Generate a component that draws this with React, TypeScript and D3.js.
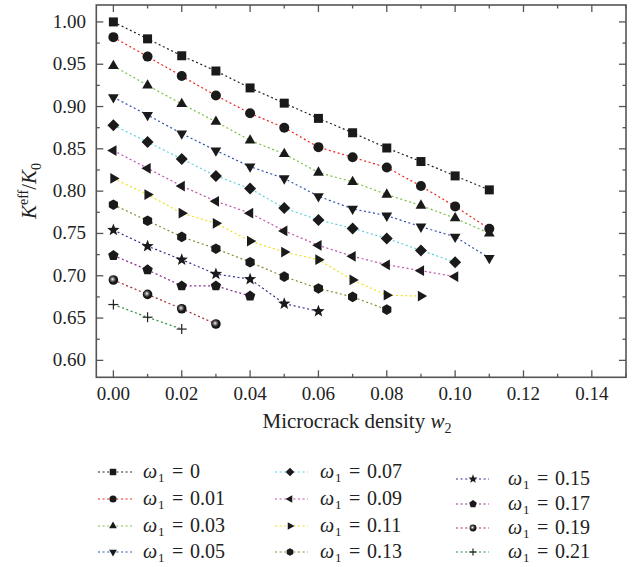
import React from "react";
import * as d3 from "d3";

const W = 634;
const H = 567;

const densities = [0, 0.01, 0.02, 0.03, 0.04, 0.05, 0.06, 0.07, 0.08, 0.09, 0.1, 0.11];

const omegaLabels = ["0", "0.01", "0.03", "0.05", "0.07", "0.09", "0.11", "0.13", "0.15", "0.17", "0.19", "0.21"];

const s0 = [1.0, 0.98, 0.96, 0.942, 0.922, 0.904, 0.886, 0.869, 0.851, 0.835, 0.818, 0.8015];
const s01 = [0.982, 0.959, 0.936, 0.913, 0.892, 0.875, 0.852, 0.84, 0.828, 0.806, 0.782, 0.7555];
const s03 = [0.948, 0.925, 0.903, 0.882, 0.86, 0.844, 0.822, 0.811, 0.796, 0.783, 0.768, 0.75];
const s05 = [0.911, 0.89, 0.868, 0.848, 0.829, 0.815, 0.794, 0.779, 0.771, 0.758, 0.746, 0.721];
const s07 = [0.878, 0.858, 0.838, 0.818, 0.803, 0.78, 0.766, 0.756, 0.744, 0.73, 0.716];
const s09 = [0.848, 0.827, 0.806, 0.788, 0.774, 0.753, 0.736, 0.723, 0.713, 0.706, 0.699];
const s11 = [0.815, 0.796, 0.774, 0.762, 0.741, 0.728, 0.719, 0.695, 0.677, 0.676];
const s13 = [0.784, 0.765, 0.746, 0.732, 0.716, 0.699, 0.685, 0.675, 0.66];
const s15 = [0.754, 0.735, 0.719, 0.702, 0.696, 0.667, 0.658];
const s17 = [0.724, 0.707, 0.688, 0.688, 0.676];
const s19 = [0.695, 0.678, 0.661, 0.643];
const s21 = [0.666, 0.651, 0.637];

const seriesValues = [s0, s01, s03, s05, s07, s09, s11, s13, s15, s17, s19, s21];
const seriesColors = [
  "#222222", "#f02020", "#78c040", "#3050b0", "#60d0e0", "#c050b0",
  "#f0e020", "#8a8a30", "#303090", "#8a2890", "#a03030", "#2a8a3a",
];
const markerTypes = [
  "square", "circle", "up", "down", "diamond", "left",
  "right", "hexagon", "star", "pentagon", "sphere", "plus",
];

const xTicks = [0, 0.02, 0.04, 0.06, 0.08, 0.1, 0.12, 0.14];
const yTicks = [0.6, 0.65, 0.7, 0.75, 0.8, 0.85, 0.9, 0.95, 1.0];

const M = { left: 96.3, top: 5, right: 626, bottom: 377.3 };

const x = d3.scaleLinear().domain([-0.005, 0.15]).range([M.left, M.right]);
const y = d3.scaleLinear().domain([0.58, 1.02]).range([M.bottom, M.top]);

function polygon(n: number, r: number, rot: number): string {
  const pts: string[] = [];
  for (let i = 0; i < n; i++) {
    const a = rot + (i * 2 * Math.PI) / n;
    pts.push(`${(r * Math.cos(a)).toFixed(2)},${(r * Math.sin(a)).toFixed(2)}`);
  }
  return "M" + pts.join("L") + "Z";
}

function starPath(r: number): string {
  const pts: string[] = [];
  for (let i = 0; i < 10; i++) {
    const rr = i % 2 === 0 ? r : r * 0.42;
    const a = -Math.PI / 2 + (i * Math.PI) / 5;
    pts.push(`${(rr * Math.cos(a)).toFixed(2)},${(rr * Math.sin(a)).toFixed(2)}`);
  }
  return "M" + pts.join("L") + "Z";
}

function Marker({ type, cx, cy, s }: { type: string; cx: number; cy: number; s: number }) {
  const t = `translate(${cx},${cy})`;
  const fill = "#1a1a1a";
  switch (type) {
    case "square":
      return <rect x={cx - 4.5 * s} y={cy - 4.5 * s} width={9 * s} height={9 * s} fill={fill} />;
    case "circle":
      return <circle cx={cx} cy={cy} r={5 * s} fill={fill} />;
    case "up":
      return <path transform={t} d={polygon(3, 6.2 * s, -Math.PI / 2)} fill={fill} />;
    case "down":
      return <path transform={t} d={polygon(3, 6.2 * s, Math.PI / 2)} fill={fill} />;
    case "left":
      return <path transform={t} d={polygon(3, 6.2 * s, Math.PI)} fill={fill} />;
    case "right":
      return <path transform={t} d={polygon(3, 6.2 * s, 0)} fill={fill} />;
    case "diamond":
      return <path transform={t} d={polygon(4, 6 * s, 0)} fill={fill} />;
    case "hexagon":
      return <path transform={t} d={polygon(6, 5.3 * s, -Math.PI / 2)} fill={fill} />;
    case "pentagon":
      return <path transform={t} d={polygon(5, 5.5 * s, -Math.PI / 2)} fill={fill} />;
    case "star":
      return <path transform={t} d={starPath(6.5 * s)} fill={fill} />;
    case "sphere":
      return <circle cx={cx} cy={cy} r={4.8 * s} fill="url(#sphereGrad)" />;
    case "plus":
      return (
        <g transform={t} stroke="#222" strokeWidth={1.2}>
          <line x1={-5 * s} x2={5 * s} y1={0} y2={0} />
          <line x1={0} x2={0} y1={-5 * s} y2={5 * s} />
        </g>
      );
    default:
      return null;
  }
}

export default function App() {
  const line = d3
    .line<number>()
    .x((_, i) => x(densities[i]))
    .y((d) => y(d));

  const xMinor = d3.range(0, 0.1501, 0.01);
  const yMinor = d3.range(0.6, 1.0001, 0.025);

  const frame = "#555";
  const serif = "'Liberation Serif', 'DejaVu Serif', serif";

  const legendCols = [
    { lx: 98, mx: 113, lx2: 132, tx: 143, rows: [472, 499, 526, 552] },
    { lx: 275, mx: 290, lx2: 308, tx: 320, rows: [472, 499, 526, 552] },
    { lx: 456, mx: 473, lx2: 489, tx: 508, rows: [479, 504, 528, 552] },
  ];

  return (
    <svg width={W} height={H} style={{ position: "absolute", left: 0, top: 0, background: "#fff" }}>
      <defs>
        <radialGradient id="sphereGrad" cx="0.42" cy="0.42" r="0.6">
          <stop offset="0" stopColor="#ffffff" />
          <stop offset="0.25" stopColor="#888" />
          <stop offset="0.6" stopColor="#1a1a1a" />
          <stop offset="1" stopColor="#111" />
        </radialGradient>
      </defs>

      {/* series lines */}
      {seriesValues.map((vals, si) => (
        <path
          key={"l" + si}
          d={line(vals) || ""}
          fill="none"
          stroke={seriesColors[si]}
          strokeWidth={1.2}
          strokeDasharray="2,2.6"
        />
      ))}
      {/* markers */}
      {seriesValues.map((vals, si) =>
        vals.map((v, i) => (
          <Marker key={`m${si}-${i}`} type={markerTypes[si]} cx={x(densities[i])} cy={y(v)} s={1} />
        ))
      )}

      {/* frame */}
      <rect
        x={M.left}
        y={M.top}
        width={M.right - M.left}
        height={M.bottom - M.top}
        fill="none"
        stroke={frame}
        strokeWidth={1.6}
      />
      {/* ticks */}
      {xMinor.map((v, i) => {
        const len = i % 2 === 0 ? 7 : 3.5;
        const px = x(v);
        return (
          <g key={"xt" + i} stroke={frame} strokeWidth={1.3}>
            <line x1={px} x2={px} y1={M.bottom} y2={M.bottom - len} />
            <line x1={px} x2={px} y1={M.top} y2={M.top + len} />
          </g>
        );
      })}
      {yMinor.map((v, i) => {
        const len = i % 2 === 0 ? 7 : 3.5;
        const py = y(v);
        return (
          <g key={"yt" + i} stroke={frame} strokeWidth={1.3}>
            <line x1={M.left} x2={M.left + len} y1={py} y2={py} />
            <line x1={M.right} x2={M.right - len} y1={py} y2={py} />
          </g>
        );
      })}
      {xTicks.map((v) => (
        <text
          key={"xl" + v}
          x={x(v)}
          y={400}
          textAnchor="middle"
          fontFamily={serif}
          fontSize={19}
          fill="#222"
        >
          {v.toFixed(2)}
        </text>
      ))}
      {yTicks.map((v) => (
        <text
          key={"yl" + v}
          x={86}
          y={y(v) + 6}
          textAnchor="end"
          fontFamily={serif}
          fontSize={19}
          fill="#222"
        >
          {v.toFixed(2)}
        </text>
      ))}

      {/* x title */}
      <text x={357} y={428} textAnchor="middle" fontFamily={serif} fontSize={21} fill="#222">
        Microcrack density <tspan fontStyle="italic">w</tspan>
        <tspan fontSize={14} dy={5}>2</tspan>
      </text>

      {/* y title */}
      <text
        transform="translate(36,191) rotate(-90)"
        textAnchor="middle"
        fontFamily={serif}
        fontSize={21}
        fill="#222"
      >
        <tspan fontStyle="italic">K</tspan>
        <tspan fontSize={14} dy={-8}>eff</tspan>
        <tspan dy={8}>/</tspan>
        <tspan fontStyle="italic">K</tspan>
        <tspan fontSize={14} dy={5}>0</tspan>
      </text>

      {/* legend */}
      {omegaLabels.map((lab, si) => {
        const col = legendCols[Math.floor(si / 4)];
        const ry = col.rows[si % 4];
        return (
          <g key={"lg" + si}>
            <line
              x1={col.lx}
              x2={col.lx2}
              y1={ry}
              y2={ry}
              stroke={seriesColors[si]}
              strokeWidth={1.2}
              strokeDasharray="2,2.6"
            />
            <Marker type={markerTypes[si]} cx={col.mx} cy={ry} s={0.72} />
            <text y={ry + 6} fontFamily={serif} fontSize={20} fill="#222">
              <tspan x={col.tx} fontStyle="italic">ω</tspan>
              <tspan x={col.tx + 15} fontSize={13} dy={4}>1</tspan>
              <tspan x={col.tx + 29} dy={-4}>=</tspan>
              <tspan x={col.tx + 47}>{lab}</tspan>
            </text>
          </g>
        );
      })}
    </svg>
  );
}
